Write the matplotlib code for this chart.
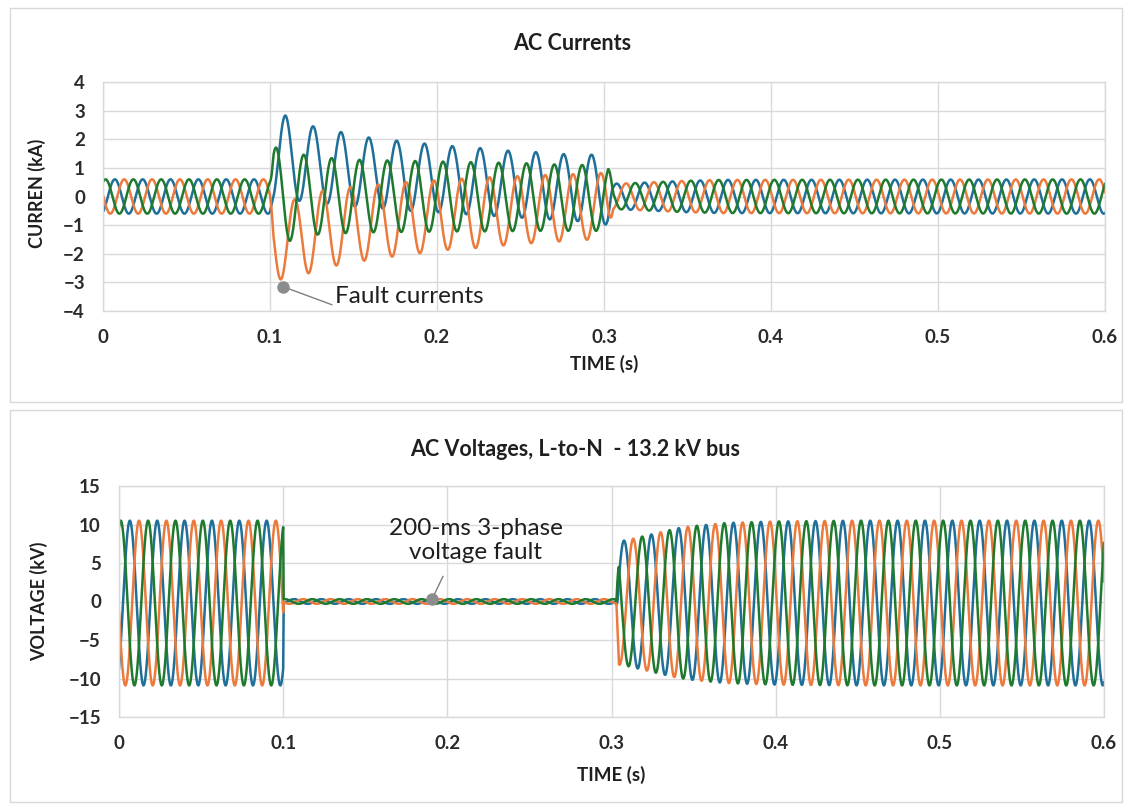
import numpy as np
import matplotlib
matplotlib.use("Agg")
import matplotlib.pyplot as plt
from matplotlib.patches import Rectangle

plt.rcParams['font.family'] = ['Lato', 'DejaVu Sans']

# ---------------- data ----------------
FREQ = 60.0                      # Hz
t = np.linspace(0.0, 0.6, 24001)  # simulation time (s)

series_colors = ["#1f6f99", "#EC7A3C", "#1f7a2e"]  # phase A (blue), B (orange), C (green)

# ---- AC currents (kA) ----
i_pre_amp = 0.6
i_pre_peak_t = [0.0071, 0.0127, 0.0015]          # A, B, C first peak time (s)
i_fault_on = 0.100
i_fault_off = 0.3025

blue_peak_t0, blue_trough_t0 = 0.1092, 0.1175
blue_fault_peaks = [2.83, 2.45, 2.25, 2.06, 1.95, 1.85, 1.76, 1.69, 1.60, 1.55, 1.48, 1.46]
blue_fault_troughs = [-0.15, -0.25, -0.35, -0.42, -0.50, -0.55, -0.62, -0.68, -0.74, -0.80, -0.86, -0.98]

orange_peak_t0, orange_trough_t0 = 0.1148, 0.1065
orange_fault_peaks = [-0.10, 0.20, 0.33, 0.42, 0.50, 0.56, 0.62, 0.67, 0.71, 0.75, 0.78, 0.82]
orange_fault_troughs = [-2.90, -2.68, -2.41, -2.24, -2.10, -1.98, -1.86, -1.80, -1.71, -1.63, -1.57, -1.51]

green_peak_t0, green_trough_t0 = 0.1036, 0.1119
green_fault_peaks = [1.71, 1.46, 1.34, 1.28, 1.26, 1.24, 1.22, 1.20, 1.18, 1.16, 1.12, 1.10, 1.05]
green_fault_troughs = [-1.55, -1.33, -1.28, -1.25, -1.24, -1.23, -1.22, -1.22, -1.21, -1.20, -1.20, -1.20]

i_post_t = [0.3025, 0.310, 0.330, 0.350, 0.370, 0.600]
i_post_amp = [0.45, 0.45, 0.50, 0.55, 0.58, 0.60]
i_post_peak_t = [0.0076, 0.0132, 0.0020]

# ---- AC voltages L-to-N (kV) ----
v_pre_amp = 10.7
v_offset = -0.2
v_pre_peak_t = [0.0066, 0.0122, 0.00106]
v_fault_on = 0.100
v_fault_amp = 0.3
v_post_t = [0.3030, 0.3045, 0.310, 0.320, 0.330, 0.340, 0.350, 0.370, 0.400, 0.450, 0.600]
v_post_amp = [0.3, 8.0, 8.2, 8.7, 9.2, 9.7, 10.0, 10.4, 10.6, 10.7, 10.7]
v_post_peak_t = [0.0076, 0.0132, 0.0020]

# annotations
fault_cur_point = (0.1078, -3.15)
fault_volt_point = (0.1907, 0.3)

# ---------------- build the waveforms ----------------
W = 2 * np.pi * FREQ


def sinus(tt, amp, center, tp):
    return center + amp * np.cos(W * (tt - tp))


def fault_current(tt, tp, peaks, tr0, troughs):
    pk_t = tp + np.arange(len(peaks)) / FREQ
    tr_t = tr0 + np.arange(len(troughs)) / FREQ
    up = np.interp(tt, pk_t, peaks)
    lo = np.interp(tt, tr_t, troughs)
    return (up + lo) / 2 + (up - lo) / 2 * np.cos(W * (tt - tp))


fault_sets = [
    (blue_peak_t0, blue_fault_peaks, blue_trough_t0, blue_fault_troughs),
    (orange_peak_t0, orange_fault_peaks, orange_trough_t0, orange_fault_troughs),
    (green_peak_t0, green_fault_peaks, green_trough_t0, green_fault_troughs),
]

w_in = np.clip((t - i_fault_on) / 0.002, 0, 1)
w_out = np.clip((t - i_fault_off) / 0.003, 0, 1)
post_amp_t = np.interp(t, i_post_t, i_post_amp)

currents = []
for k in range(3):
    pre = sinus(t, i_pre_amp, 0.0, i_pre_peak_t[k])
    flt = fault_current(t, *fault_sets[k])
    post = sinus(t, post_amp_t, 0.0, i_post_peak_t[k])
    y = pre * (1 - w_in) + flt * w_in
    y = y * (1 - w_out) + post * w_out
    currents.append(y)

vw_in = np.clip((t - v_fault_on) / 0.0003, 0, 1)
vw_out = (t >= v_post_t[0]).astype(float)
v_post_env = np.interp(t, v_post_t, v_post_amp)
voltages = []
for k in range(3):
    pre = sinus(t, v_pre_amp, v_offset, v_pre_peak_t[k])
    flt = sinus(t, v_fault_amp, 0.0, v_pre_peak_t[k])
    post = sinus(t, v_post_env, v_offset, v_post_peak_t[k])
    y = pre * (1 - vw_in) + flt * vw_in
    y = y * (1 - vw_out) + post * vw_out
    voltages.append(y)

# ---------------- figure ----------------
FW, FH = 1132, 806
fig = plt.figure(figsize=(FW / 100, FH / 100), dpi=100)
fig.patch.set_facecolor("white")


def px_rect(x0, y0, x1, y1):
    return [x0 / FW, 1 - y1 / FH, (x1 - x0) / FW, (y1 - y0) / FH]


for (x0, y0, x1, y1) in [(10, 8, 1122, 402), (10, 410, 1122, 802)]:
    r = px_rect(x0, y0, x1, y1)
    fig.patches.append(Rectangle((r[0], r[1]), r[2], r[3], transform=fig.transFigure,
                                 facecolor="white", edgecolor="#D9D9D9", lw=1.0, zorder=-5))

grid_c = "#D9D9D9"
txt_c = "#1f1f1f"
tick_c = "#2b2b2b"


def style_axes(ax, yticks, ylim):
    ax.set_xlim(0, 0.6)
    ax.set_ylim(*ylim)
    ax.set_xticks([0, 0.1, 0.2, 0.3, 0.4, 0.5, 0.6])
    ax.set_xticklabels(["0", "0.1", "0.2", "0.3", "0.4", "0.5", "0.6"])
    ax.set_yticks(yticks)
    ax.grid(True, color=grid_c, lw=1.0)
    ax.set_axisbelow(True)
    for s in ax.spines.values():
        s.set_color(grid_c)
        s.set_linewidth(1.0)
    ax.tick_params(length=0, labelsize=13.5, colors=tick_c, pad=13)
    for lab in ax.get_xticklabels() + ax.get_yticklabels():
        lab.set_fontweight("bold")


# ---- top: currents ----
ax1 = fig.add_axes(px_rect(103, 82, 1105, 311))
for k in range(3):
    ax1.plot(t, currents[k], color=series_colors[k], lw=1.8, solid_joinstyle="round")
style_axes(ax1, [-4, -3, -2, -1, 0, 1, 2, 3, 4], (-4, 4))
ax1.set_ylabel("CURREN (kA)", fontsize=13, fontweight="bold", color=txt_c)
ax1.yaxis.set_label_coords(-0.057, 0.515)
ax1.set_xlabel("TIME (s)", fontsize=13.5, fontweight="bold", color=txt_c)
ax1.xaxis.set_label_coords(0.5, -0.231)
ax1.xaxis.label.set_va("center")
fig.text(572 / FW, 1 - 43 / FH, "AC Currents", ha="center", va="center",
         fontsize=15.5, fontweight="bold", color=txt_c)

ax1.plot([fault_cur_point[0], 0.137], [fault_cur_point[1], -3.78], color="#7F7F7F", lw=1.0)
ax1.plot([fault_cur_point[0]], [fault_cur_point[1]], "o", color="#8C8C8C", ms=8, zorder=5)
ax1.text(0.139, -3.48, "Fault currents", fontsize=17.5, color=txt_c, ha="left", va="center")

# ---- bottom: voltages ----
ax2 = fig.add_axes(px_rect(119, 486, 1104, 717))
for k in range(3):
    ax2.plot(t, voltages[k], color=series_colors[k], lw=1.8, solid_joinstyle="round")
style_axes(ax2, [-15, -10, -5, 0, 5, 10, 15], (-15, 15))
ax2.set_ylabel("VOLTAGE (kV)", fontsize=13, fontweight="bold", color=txt_c)
ax2.yaxis.set_label_coords(-0.072, 0.5)
ax2.set_xlabel("TIME (s)", fontsize=13.5, fontweight="bold", color=txt_c)
ax2.xaxis.set_label_coords(0.5, -0.251)
ax2.xaxis.label.set_va("center")
fig.text(575 / FW, 1 - 449 / FH, "AC Voltages, L-to-N  - 13.2 kV bus", ha="center",
         va="center", fontsize=15.5, fontweight="bold", color=txt_c)

ax2.plot([fault_volt_point[0], 0.1973], [fault_volt_point[1], 3.25], color="#7F7F7F", lw=1.0)
ax2.plot([fault_volt_point[0]], [fault_volt_point[1]], "o", color="#8C8C8C", ms=8, zorder=5)
ax2.text(0.2174, 7.9, "200-ms 3-phase\nvoltage fault", fontsize=17.5, color=txt_c,
         ha="center", va="center", linespacing=1.2)

fig.savefig("out.png", dpi=100)
